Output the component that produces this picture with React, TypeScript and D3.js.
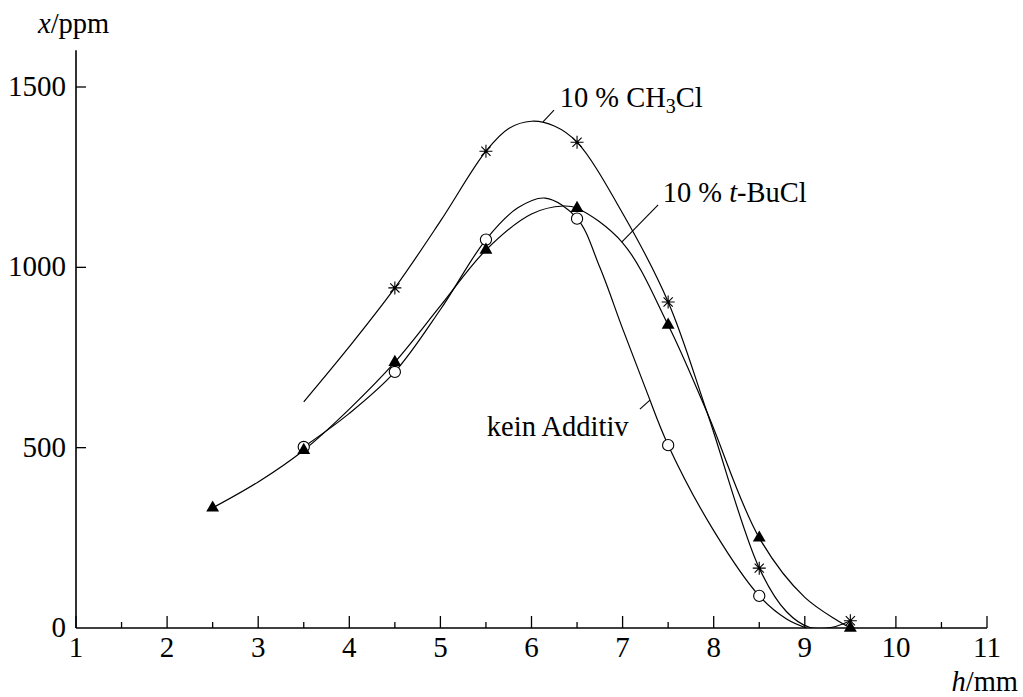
import React from "react";
import * as d3 from "d3";

// ---- data ----
const xTicks = [1, 2, 3, 4, 5, 6, 7, 8, 9, 10, 11];
const xMinorTicks = [1.5, 2.5, 3.5, 4.5, 5.5, 6.5, 7.5, 8.5, 9.5, 10.5];
const yTicks = [0, 500, 1000, 1500];

// measured points
const ch3clX = [4.5, 5.5, 6.5, 7.5, 8.5, 9.5];
const ch3clY = [943, 1322, 1347, 904, 166, 20];

const tbuclX = [2.5, 3.5, 4.5, 5.5, 6.5, 7.5, 8.5, 9.5];
const tbuclY = [333, 493, 737, 1048, 1164, 840, 250, 0];

const keinX = [3.5, 4.5, 5.5, 6.5, 7.5, 8.5];
const keinY = [502, 710, 1077, 1135, 507, 89];

// fitted curves
const ch3clCurveX = [3.5, 4.0, 4.5, 5.0, 5.5, 5.75, 6.0, 6.25, 6.5, 7.0, 7.5, 7.93, 8.5, 8.8, 9.05, 9.3, 9.5];
const ch3clCurveY = [627, 780, 943, 1128, 1322, 1385, 1405, 1392, 1347, 1150, 904, 596, 166, 45, 2, 2, 20];

const tbuclCurveX = [2.5, 3.0, 3.5, 4.0, 4.5, 5.0, 5.5, 6.0, 6.35, 6.5, 7.0, 7.5, 7.93, 8.5, 9.0, 9.5];
const tbuclCurveY = [333, 405, 493, 607, 737, 893, 1048, 1148, 1170, 1164, 1068, 840, 596, 250, 85, 0];

const keinCurveX = [3.5, 4.0, 4.5, 5.0, 5.5, 5.85, 6.15, 6.5, 6.75, 7.0, 7.25, 7.5, 8.0, 8.5, 8.8, 9.02];
const keinCurveY = [502, 595, 710, 883, 1077, 1165, 1192, 1136, 1000, 830, 665, 507, 270, 89, 25, 0];

// annotations: curve point -> leader end -> text anchor (data units)
const annoText = ["10 % CH3Cl", "10 % t-BuCl", "kein Additiv"];
const annoCurveX = [6.126, 6.99, 7.3];
const annoCurveY = [1403, 1070, 632];
const annoEndX = [6.247, 7.39, 7.19];
const annoEndY = [1436, 1173, 607];
const annoTextX = [6.31, 7.44, 5.51];
const annoTextY = [1444, 1181, 532];

const FONT = "'Liberation Serif', 'Times New Roman', serif";
const TICK_FS = 29;
const LABEL_FS = 28.5;

export default function App() {
  const W = 1023;
  const H = 697;
  const x = d3.scaleLinear().domain([1, 11]).range([76, 987]);
  const y = d3.scaleLinear().domain([0, 1500]).range([628, 87]);

  const line = d3
    .line<[number, number]>()
    .x((d) => x(d[0]))
    .y((d) => y(d[1]))
    .curve(d3.curveCatmullRom.alpha(0.5));

  const zip = (a: number[], b: number[]) => a.map((v, i) => [v, b[i]] as [number, number]);

  const curves = [
    zip(ch3clCurveX, ch3clCurveY),
    zip(tbuclCurveX, tbuclCurveY),
    zip(keinCurveX, keinCurveY),
  ];

  const tri = d3.symbol().type(d3.symbolTriangle).size(72)() as string;

  const starPath = (() => {
    const r = 6.5;
    let p = "";
    for (let k = 0; k < 4; k++) {
      const a = (k * Math.PI) / 4;
      const dx = r * Math.cos(a);
      const dy = r * Math.sin(a);
      p += `M${-dx},${-dy}L${dx},${dy}`;
    }
    return p;
  })();

  const renderLabel = (i: number) => {
    const tx = x(annoTextX[i]);
    const ty = y(annoTextY[i]);
    if (i === 0) {
      return (
        <text key={i} x={tx} y={ty} fontFamily={FONT} fontSize={LABEL_FS}>
          10 % CH
          <tspan fontSize={20} dy={6}>3</tspan>
          <tspan dy={-6}>Cl</tspan>
        </text>
      );
    }
    if (i === 1) {
      return (
        <text key={i} x={tx} y={ty} fontFamily={FONT} fontSize={LABEL_FS}>
          10 % <tspan fontStyle="italic">t</tspan>-BuCl
        </text>
      );
    }
    return (
      <text key={i} x={tx} y={ty} fontFamily={FONT} fontSize={LABEL_FS}>
        {annoText[i]}
      </text>
    );
  };

  return (
    <svg
      width={W}
      height={H}
      style={{ position: "absolute", left: 0, top: 0, background: "#fff" }}
    >
      <defs>
        <clipPath id="plotClip">
          <rect x={x(1)} y={0} width={x(11) - x(1)} height={y(0)} />
        </clipPath>
      </defs>

      {/* axes */}
      <line x1={x(1)} x2={x(11)} y1={y(0)} y2={y(0)} stroke="#000" strokeWidth={1.6} />
      <line x1={x(1)} x2={x(1)} y1={y(0)} y2={y(1602)} stroke="#000" strokeWidth={1.6} />

      {xTicks.map((t) => (
        <g key={"xt" + t}>
          <line x1={x(t)} x2={x(t)} y1={y(0)} y2={y(0) - 12} stroke="#000" strokeWidth={1.3} />
          <text x={x(t)} y={y(0) + 29} textAnchor="middle" fontFamily={FONT} fontSize={TICK_FS}>
            {t}
          </text>
        </g>
      ))}
      {xMinorTicks.map((t) => (
        <line key={"xm" + t} x1={x(t)} x2={x(t)} y1={y(0)} y2={y(0) - 6} stroke="#000" strokeWidth={1.3} />
      ))}
      {yTicks.map((t) => (
        <g key={"yt" + t}>
          {t > 0 && (
            <line x1={x(1)} x2={x(1) + 10} y1={y(t)} y2={y(t)} stroke="#000" strokeWidth={1.3} />
          )}
          <text x={x(1) - 10} y={y(t) + 9} textAnchor="end" fontFamily={FONT} fontSize={TICK_FS}>
            {t}
          </text>
        </g>
      ))}

      {/* axis titles */}
      <text x={38} y={33} fontFamily={FONT} fontSize={LABEL_FS}>
        <tspan fontStyle="italic">x</tspan>/ppm
      </text>
      <text x={1018} y={691} textAnchor="end" fontFamily={FONT} fontSize={LABEL_FS}>
        <tspan fontStyle="italic">h</tspan>/mm
      </text>

      {/* curves */}
      <g clipPath="url(#plotClip)">
        {curves.map((c, i) => (
          <path key={"c" + i} d={line(c) || ""} fill="none" stroke="#000" strokeWidth={1.2} />
        ))}
      </g>

      {/* leaders + labels */}
      {annoText.map((_, i) => (
        <line
          key={"ld" + i}
          x1={x(annoCurveX[i])}
          y1={y(annoCurveY[i])}
          x2={x(annoEndX[i])}
          y2={y(annoEndY[i])}
          stroke="#000"
          strokeWidth={1.1}
        />
      ))}
      {annoText.map((_, i) => renderLabel(i))}

      {/* markers */}
      {keinX.map((v, i) => (
        <circle key={"o" + i} cx={x(v)} cy={y(keinY[i])} r={5.6} fill="#fff" stroke="#000" strokeWidth={1.1} />
      ))}
      {tbuclX.map((v, i) => (
        <path key={"t" + i} d={tri} transform={`translate(${x(v)},${y(tbuclY[i])})`} fill="#000" />
      ))}
      {ch3clX.map((v, i) => (
        <g key={"s" + i} transform={`translate(${x(v)},${y(ch3clY[i])})`}>
          <path d={starPath} stroke="#000" strokeWidth={1.1} fill="none" />
          <circle r={1.4} fill="#000" />
        </g>
      ))}
    </svg>
  );
}
